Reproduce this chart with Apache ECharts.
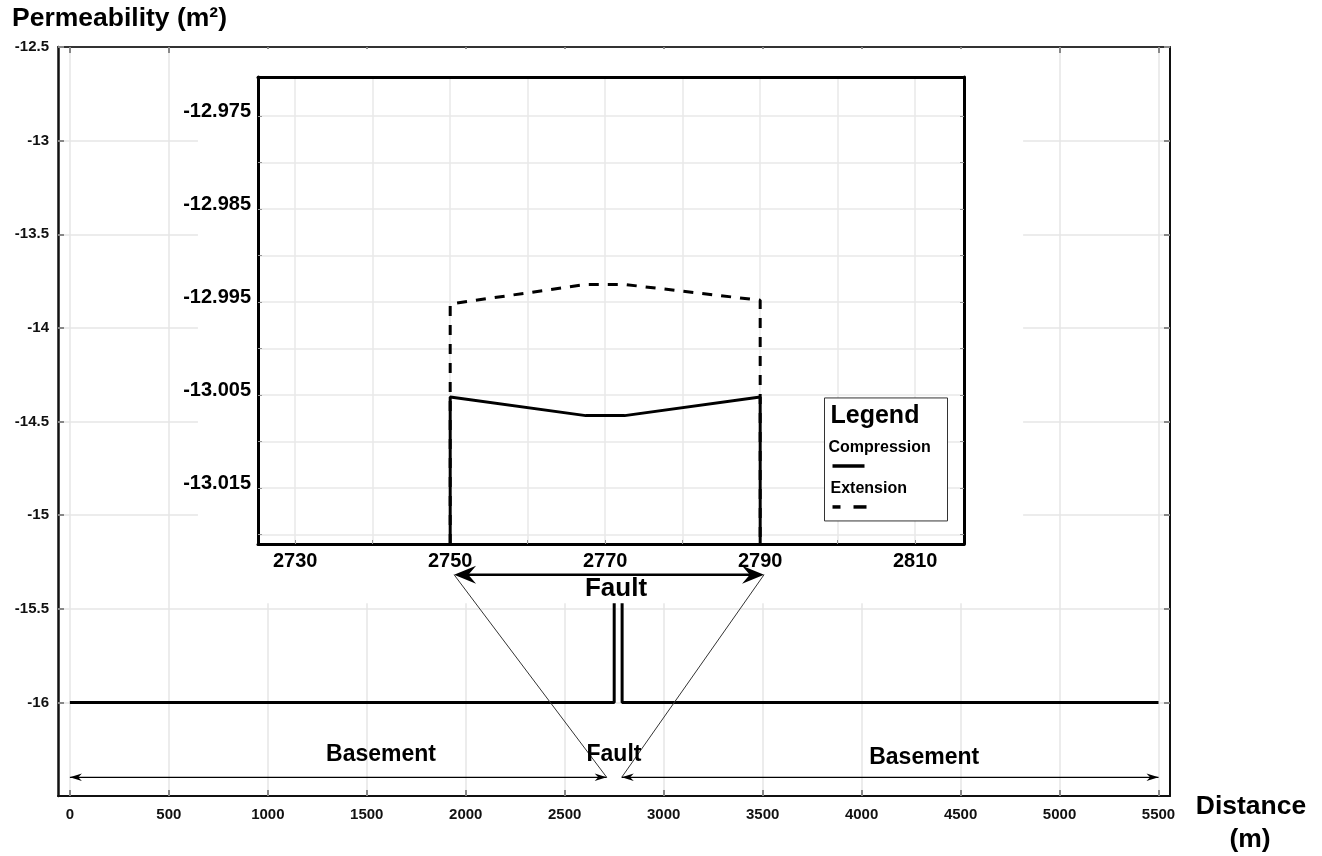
<!DOCTYPE html>
<html>
<head>
<meta charset="utf-8">
<script src="https://cdn.jsdelivr.net/npm/echarts@6/dist/echarts.min.js"></script>
<style>html,body{margin:0;padding:0;background:#fff}#c{width:1322px;height:856px}</style>
</head>
<body>
<div id="c"></div>
<script>
// ---------- data ----------
const mainDistance     = [0, 2750, 2750, 2770, 2790, 2790, 5500];
const mainPermeability = [-16, -16, -13.005, -13.007, -13.005, -16, -16];

const insetDistance = [2750, 2750, 2767.5, 2772.5, 2790, 2790];
const compression   = [-13.021, -13.0052, -13.0072, -13.0072, -13.0052, -13.021];
const extension     = [-13.021, -12.9952, -12.9931, -12.9931, -12.9948, -13.021];

const mainXTicks  = [0, 500, 1000, 1500, 2000, 2500, 3000, 3500, 4000, 4500, 5000, 5500];
const mainYTicks  = [-16, -15.5, -15, -14.5, -14, -13.5, -13, -12.5];
const insetXTicks = [2730, 2740, 2750, 2760, 2770, 2780, 2790, 2800, 2810];
const insetXLabels = [2730, 2750, 2770, 2790, 2810];
const insetYTicks = [-13.02, -13.015, -13.01, -13.005, -13, -12.995, -12.99, -12.985, -12.98, -12.975];
const insetYLabels = [-13.015, -13.005, -12.995, -12.985, -12.975];

// annotation anchors (data space)
const faultSpanInset   = [2750.5, 2790.5];
const faultArrowLevel  = -13.0243;
const faultLabelInset  = [2771.4, -13.0258];
const basementLeft     = [0, 2712];
const basementRight    = [2788, 5500];
const bottomArrowLevel = -16.40;
const bottomLabels = [
  {text: 'Basement', x: 1572, y: -16.278},
  {text: 'Fault',    x: 2749, y: -16.278},
  {text: 'Basement', x: 4316, y: -16.294}
];
const coverBox = {x0: 647, x1: 4816, y0: -15.47};

// ---------- chart ----------
const FONT = "'Liberation Sans', Arial, sans-serif";
const chart = echarts.init(document.getElementById('c'));
const zip = (a, b) => a.map((v, i) => [v, b[i]]);
const plain = v => String(v);

const mainXRange = {min: -60, max: 5558};
const mainYRange = {min: -16.5, max: -12.5};
const insetXRange = {min: 2725.2, max: 2816.3};
const insetYRange = {min: -13.021, max: -12.9708};

const option = {
  animation: false,
  textStyle: {fontFamily: FONT},
  grid: [
    {left: 58, right: 152, top: 47, bottom: 60, show: false},
    {left: 258, right: 358, top: 77, bottom: 312, show: false, z: 4}
  ],
  xAxis: [
    {gridIndex: 0, type: 'value', ...mainXRange, position: 'bottom',
     axisLine: {show: true, onZero: false, lineStyle: {color: '#111', width: 2}},
     axisTick: {show: true, inside: true, length: 6, customValues: mainXTicks, lineStyle: {color: '#888', width: 2}},
     axisLabel: {customValues: mainXTicks, formatter: plain, color: '#111', fontWeight: 'bold', fontSize: 15, margin: 11, fontFamily: FONT},
     splitLine: {show: true, lineStyle: {color: '#e6e6e6', width: 1.5}}},
    {gridIndex: 0, type: 'value', ...mainXRange, position: 'top',
     axisLine: {show: true, onZero: false, lineStyle: {color: '#333', width: 2}},
     axisTick: {show: true, inside: true, length: 6, customValues: mainXTicks, lineStyle: {color: '#888', width: 2}},
     axisLabel: {show: false}, splitLine: {show: false}},
    {gridIndex: 1, type: 'value', ...insetXRange, position: 'bottom', z: 5,
     axisLine: {show: true, onZero: false, lineStyle: {color: '#000', width: 3}},
     axisTick: {show: true, inside: true, length: 4, customValues: insetXTicks, lineStyle: {color: '#999', width: 1}},
     axisLabel: {customValues: insetXLabels, formatter: plain, color: '#000', fontWeight: 'bold', fontSize: 20, margin: 7, fontFamily: FONT},
     splitLine: {show: true, lineStyle: {color: '#e8e8e8', width: 1.5}}},
    {gridIndex: 1, type: 'value', ...insetXRange, position: 'top', z: 5,
     axisLine: {show: true, onZero: false, lineStyle: {color: '#000', width: 3}},
     axisTick: {show: false}, axisLabel: {show: false}, splitLine: {show: false}}
  ],
  yAxis: [
    {gridIndex: 0, type: 'value', ...mainYRange, position: 'left',
     axisLine: {show: true, onZero: false, lineStyle: {color: '#111', width: 2.5}},
     axisTick: {show: true, inside: true, length: 6, customValues: mainYTicks, lineStyle: {color: '#888', width: 2}},
     axisLabel: {customValues: mainYTicks, formatter: plain, color: '#111', fontWeight: 'bold', fontSize: 15, margin: 9, fontFamily: FONT},
     splitLine: {show: true, lineStyle: {color: '#e6e6e6', width: 1.5}}},
    {gridIndex: 0, type: 'value', ...mainYRange, position: 'right',
     axisLine: {show: true, onZero: false, lineStyle: {color: '#111', width: 2}},
     axisTick: {show: true, inside: true, length: 6, customValues: mainYTicks, lineStyle: {color: '#888', width: 2}},
     axisLabel: {show: false}, splitLine: {show: false}},
    {gridIndex: 1, type: 'value', ...insetYRange, position: 'left', z: 5,
     axisLine: {show: true, onZero: false, lineStyle: {color: '#000', width: 3}},
     axisTick: {show: true, inside: true, length: 4, customValues: insetYTicks, lineStyle: {color: '#999', width: 1}},
     axisLabel: {customValues: insetYLabels, formatter: plain, color: '#000', fontWeight: 'bold', fontSize: 20, margin: 7,
                 verticalAlign: 'bottom', lineHeight: 10, fontFamily: FONT},
     splitLine: {show: true, lineStyle: {color: '#e8e8e8', width: 1.5}}},
    {gridIndex: 1, type: 'value', ...insetYRange, position: 'right', z: 5,
     axisLine: {show: true, onZero: false, lineStyle: {color: '#000', width: 3}},
     axisTick: {show: true, inside: true, length: 4, customValues: insetYTicks, lineStyle: {color: '#999', width: 1}},
     axisLabel: {show: false}, splitLine: {show: false}}
  ],
  series: [
    {name: 'Permeability', type: 'line', xAxisIndex: 0, yAxisIndex: 0, z: 2,
     data: zip(mainDistance, mainPermeability), symbol: 'none',
     lineStyle: {color: '#000', width: 3}},
    {name: 'Compression', type: 'line', xAxisIndex: 2, yAxisIndex: 2, z: 6,
     data: zip(insetDistance, compression), symbol: 'none',
     lineStyle: {color: '#000', width: 3}},
    {name: 'Extension', type: 'line', xAxisIndex: 2, yAxisIndex: 2, z: 6,
     data: zip(insetDistance, extension), symbol: 'none',
     lineStyle: {color: '#000', width: 3, type: [10, 9]}}
  ]
};
chart.setOption(option);

// ---------- annotations ----------
const P0 = (x, y) => chart.convertToPixel({xAxisIndex: 0, yAxisIndex: 0}, [x, y]);
const P1 = (x, y) => chart.convertToPixel({xAxisIndex: 2, yAxisIndex: 2}, [x, y]);

function head(tip, dir, len, half, notch, z) {
  return {type: 'polygon', z: z, silent: true,
    shape: {points: [
      [tip[0], tip[1]],
      [tip[0] - dir * len, tip[1] - half],
      [tip[0] - dir * len * notch, tip[1]],
      [tip[0] - dir * len, tip[1] + half]
    ]},
    style: {fill: '#000'}};
}
function seg(a, b, w, color, z) {
  return {type: 'line', z: z, silent: true,
    shape: {x1: a[0], y1: a[1], x2: b[0], y2: b[1]},
    style: {stroke: color, lineWidth: w}};
}
function txt(text, p, size, z, align) {
  return {type: 'text', z: z, silent: true, x: p[0], y: p[1],
    style: {text: text, fill: '#000', font: 'bold ' + size + 'px ' + FONT,
            align: align || 'center', verticalAlign: 'middle'}};
}

const g = [];
// white cover behind the inset
const cTL = P0(coverBox.x0, mainYRange.max);
const cBR = P0(coverBox.x1, coverBox.y0);
g.push({type: 'rect', z: 3, silent: true,
  shape: {x: cTL[0], y: cTL[1] + 2, width: cBR[0] - cTL[0], height: cBR[1] - cTL[1] - 2},
  style: {fill: '#fff'}});

// inset Fault arrow
const fa = P1(faultSpanInset[0], faultArrowLevel);
const fb = P1(faultSpanInset[1], faultArrowLevel);
g.push(seg([fa[0] + 10, fa[1]], [fb[0] - 10, fb[1]], 2.5, '#000', 10));
g.push(head(fa, -1, 22, 9, 0.65, 10));
g.push(head(fb, 1, 22, 9, 0.65, 10));
g.push(txt('Fault', P1(faultLabelInset[0], faultLabelInset[1]), 26, 10));

// bottom basement arrows
const bl0 = P0(basementLeft[0], bottomArrowLevel), bl1 = P0(basementLeft[1], bottomArrowLevel);
const br0 = P0(basementRight[0], bottomArrowLevel), br1 = P0(basementRight[1], bottomArrowLevel);
g.push(seg(bl0, bl1, 1.2, '#000', 10));
g.push(seg(br0, br1, 1.2, '#000', 10));
g.push(head(bl0, -1, 12, 3.8, 0.7, 10));
g.push(head(bl1, 1, 12, 3.8, 0.7, 10));
g.push(head(br0, -1, 12, 3.8, 0.7, 10));
g.push(head(br1, 1, 12, 3.8, 0.7, 10));

// connecting thin lines
g.push(seg(fa, bl1, 1, '#333', 9));
g.push(seg(fb, br0, 1, '#333', 9));

bottomLabels.forEach(l => g.push(txt(l.text, P0(l.x, l.y), 23, 10)));

// axis titles
g.push(txt('Permeability (m\u00B2)', [12, 19], 26.5, 10, 'left'));
g.push(txt('Distance', [1251, 807], 26.5, 10));
g.push(txt('(m)', [1250, 840], 26.5, 10));

// legend box inside inset
const lg = P1(2798.3, -13.0053);
const lx = lg[0], ly = lg[1];
g.push({type: 'rect', z: 8, silent: true, shape: {x: lx, y: ly, width: 123, height: 123},
        style: {fill: '#fff', stroke: '#333', lineWidth: 1}});
g.push(txt('Legend', [lx + 6, ly + 18], 25, 9, 'left'));
g.push(txt('Compression', [lx + 4, ly + 50], 16, 9, 'left'));
g.push(seg([lx + 8, ly + 68], [lx + 40, ly + 68], 3.5, '#000', 9));
g.push(txt('Extension', [lx + 6, ly + 91], 16, 9, 'left'));
g.push(seg([lx + 8, ly + 109], [lx + 16, ly + 109], 3.5, '#000', 9));
g.push(seg([lx + 29, ly + 109], [lx + 42, ly + 109], 3.5, '#000', 9));

chart.setOption({graphic: {elements: g}});
</script>
</body>
</html>
